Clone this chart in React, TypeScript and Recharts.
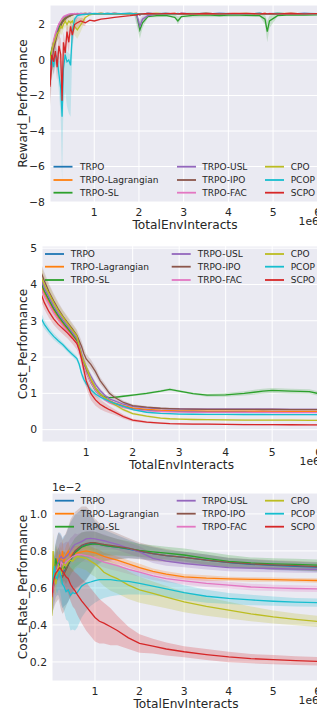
import React from "react";
import { ComposedChart, Line, Area, XAxis, YAxis, CartesianGrid, Legend } from "recharts";

const NAMES = ["TRPO", "TRPO-Lagrangian", "TRPO-SL", "TRPO-USL", "TRPO-IPO", "TRPO-FAC", "CPO", "PCOP", "SCPO"];
const COLORS = ["#1f77b4", "#ff7f0e", "#2ca02c", "#9467bd", "#8c564b", "#e377c2", "#bcbd22", "#17becf", "#d62728"];
const X_TICKS = [1, 2, 3, 4, 5, 6];

// ---- Reward_Performance ----
const rwX = [0.01, 0.05, 0.09, 0.13, 0.17, 0.21, 0.25, 0.28, 0.31, 0.35, 0.39, 0.43, 0.47, 0.51, 0.56, 0.62, 0.7, 0.8, 0.9, 1.0, 1.15, 1.3, 1.45, 1.6, 1.8, 1.95, 2.02, 2.08, 2.2, 2.4, 2.6, 2.8, 2.87, 2.95, 3.2, 3.5, 3.8, 4.1, 4.4, 4.7, 4.82, 4.87, 4.92, 5.1, 5.4, 5.7, 6.05];
const rwTrpo = [-0.5, 0.3, 0.8, 1.2, 1.5, 1.8, 2.0, 2.1, 2.25, 2.35, 2.45, 2.5, 2.55, 2.58, 2.6, 2.6, 2.62, 2.6, 2.63, 2.6, 2.62, 2.6, 2.63, 2.61, 2.62, 2.6, 2.55, 2.6, 2.62, 2.61, 2.63, 2.6, 2.6, 2.62, 2.61, 2.6, 2.63, 2.61, 2.6, 2.62, 2.6, 2.59, 2.61, 2.62, 2.6, 2.63, 2.61];
const rwLag = [-0.3, 0.5, 1.0, 1.4, 1.7, 1.9, 2.1, 2.2, 2.3, 2.4, 2.45, 2.5, 2.55, 2.57, 2.6, 2.6, 2.61, 2.62, 2.6, 2.61, 2.63, 2.6, 2.62, 2.6, 2.61, 2.62, 2.58, 2.6, 2.61, 2.63, 2.6, 2.62, 2.6, 2.61, 2.6, 2.62, 2.6, 2.63, 2.61, 2.6, 2.62, 2.6, 2.6, 2.61, 2.63, 2.6, 2.62];
const rwSl = [0.2, 0.6, 1.0, 1.3, 1.6, 1.85, 2.0, 2.15, 2.25, 2.35, 2.4, 2.45, 2.5, 2.55, 2.57, 2.58, 2.6, 2.58, 2.6, 2.59, 2.6, 2.58, 2.6, 2.59, 2.57, 2.55, 1.7, 2.1, 2.45, 2.5, 2.52, 2.4, 2.2, 2.45, 2.52, 2.55, 2.5, 2.55, 2.52, 2.5, 2.3, 1.6, 2.2, 2.5, 2.55, 2.53, 2.55];
const rwUsl = [-0.5, 0.2, 0.9, 1.3, 1.7, 2.0, 2.2, 2.3, 2.4, 2.45, 2.5, 2.55, 2.58, 2.6, 2.6, 2.62, 2.6, 2.61, 2.62, 2.6, 2.61, 2.6, 2.62, 2.6, 2.61, 2.58, 1.9, 2.3, 2.5, 2.58, 2.6, 2.6, 2.58, 2.6, 2.61, 2.6, 2.62, 2.6, 2.61, 2.6, 2.6, 2.58, 2.6, 2.61, 2.6, 2.62, 2.6];
const rwIpo = [-1.4, -0.3, 0.6, 1.0, 1.4, 1.7, 1.9, 2.1, 2.2, 2.3, 2.4, 2.45, 2.5, 2.55, 2.58, 2.6, 2.6, 2.62, 2.6, 2.61, 2.6, 2.62, 2.6, 2.61, 2.6, 2.62, 2.55, 2.6, 2.61, 2.6, 2.62, 2.6, 2.6, 2.61, 2.6, 2.62, 2.6, 2.61, 2.6, 2.62, 2.6, 2.6, 2.61, 2.6, 2.62, 2.6, 2.61];
const rwFac = [-0.8, 0.4, 1.1, 1.5, 1.8, 2.05, 2.2, 2.35, 2.45, 2.5, 2.55, 2.58, 2.6, 2.6, 2.62, 2.6, 2.61, 2.6, 2.62, 2.6, 2.61, 2.6, 2.62, 2.6, 2.61, 2.6, 2.58, 2.6, 2.62, 2.6, 2.61, 2.6, 2.6, 2.62, 2.6, 2.61, 2.6, 2.62, 2.6, 2.61, 2.6, 2.6, 2.62, 2.6, 2.61, 2.6, 2.62];
const rwCpo = [0.0, 0.5, 0.9, 1.2, 1.5, 1.6, 1.9, 1.8, 2.0, 2.2, 2.0, 2.2, 2.1, 2.2, 1.9, 1.7, 2.0, 2.4, 2.55, 2.6, 2.62, 2.6, 2.61, 2.6, 2.62, 2.6, 2.58, 2.6, 2.6, 2.62, 2.6, 2.61, 2.6, 2.6, 2.62, 2.6, 2.61, 2.6, 2.62, 2.6, 2.61, 2.6, 2.6, 2.62, 2.6, 2.61, 2.6];
const rwPcop = [-0.3, 0.2, -0.4, 0.3, 0.1, -0.8, -1.6, -3.2, -0.5, 0.3, -0.1, 0.0, -0.3, 1.6, 2.3, 2.5, 2.55, 2.58, 2.6, 2.62, 2.6, 2.62, 2.6, 2.61, 2.62, 2.6, 2.58, 2.6, 2.62, 2.6, 2.61, 2.6, 2.62, 2.6, 2.61, 2.62, 2.6, 2.61, 2.6, 2.62, 2.6, 2.61, 2.6, 2.62, 2.6, 2.61, 2.6];
const rwScpo = [-1.5, 0.3, -0.1, 0.5, -0.4, 0.8, 0.3, -2.3, 1.0, 0.4, 1.6, 1.0, 1.9, 1.4, 2.0, 2.1, 2.2, 2.1, 2.25, 2.2, 2.3, 2.35, 2.4, 2.45, 2.5, 2.55, 2.58, 2.6, 2.62, 2.6, 2.61, 2.63, 2.6, 2.62, 2.6, 2.62, 2.6, 2.61, 2.63, 2.6, 2.62, 2.6, 2.61, 2.6, 2.62, 2.6, 2.62];

// early shaded ranges of the reward runs
const rwBandX = [0.01, 0.05, 0.09, 0.13, 0.17, 0.21, 0.25, 0.28, 0.31, 0.35, 0.39, 0.43, 0.47, 0.51, 0.56, 0.62, 0.7, 0.8];
const rwPcopLo = [-0.5, -0.2, -0.9, -0.3, -0.5, -1.8, -3.2, -6.8, -2.5, -1.8, -2.6, -3.0, -3.2, 0.5, 1.8, 2.3, 2.45, 2.5];
const rwPcopHi = [-0.1, 0.6, 0.1, 0.8, 0.6, 0.2, -0.2, -0.6, 0.6, 0.8, 0.5, 0.4, 0.3, 2.2, 2.5, 2.6, 2.62, 2.64];
const rwScpoLo = [-2.2, -0.4, -0.8, -0.2, -1.2, 0.2, -0.6, -3.0, 0.4, -0.2, 1.0, 0.4, 1.5, 0.9, 1.7, 1.8, 2.0, 1.9];
const rwScpoHi = [-0.8, 1.0, 0.6, 1.2, 0.4, 1.4, 1.2, -1.4, 1.6, 1.0, 2.1, 1.6, 2.3, 1.9, 2.3, 2.4, 2.4, 2.3];
const rwIpoLo = [-2.6, -1.2, 0.0, 0.5, 1.0, 1.3, 1.6, 1.8, 2.0, 2.1, 2.25, 2.35, 2.4, 2.5, 2.55, 2.57, 2.58, 2.6];
const rwIpoHi = [-0.4, 0.6, 1.2, 1.5, 1.8, 2.1, 2.2, 2.4, 2.4, 2.5, 2.55, 2.55, 2.6, 2.6, 2.61, 2.63, 2.62, 2.64];
const rwCpoLo = [-0.4, 0.1, 0.5, 0.8, 1.1, 1.2, 1.5, 1.4, 1.7, 1.9, 1.6, 1.8, 1.6, 1.7, 1.4, 1.2, 1.6, 2.2];
const rwCpoHi = [0.4, 0.9, 1.3, 1.6, 1.9, 2.0, 2.3, 2.2, 2.3, 2.5, 2.4, 2.5, 2.5, 2.55, 2.4, 2.2, 2.4, 2.6];
// dips later on
const rwSlBandX = [1.9, 2.02, 2.08, 2.2, 2.8, 2.87, 2.95, 4.7, 4.82, 4.87, 4.92, 5.1];
const rwSlLo = [2.5, 1.2, 1.8, 2.4, 2.45, 2.0, 2.4, 2.45, 2.0, 1.0, 1.8, 2.45];
const rwSlHi = [2.6, 2.2, 2.4, 2.55, 2.58, 2.45, 2.5, 2.58, 2.55, 2.2, 2.5, 2.6];
const rwUslBandX = [1.9, 2.02, 2.08, 2.2];
const rwUslLo = [2.55, 1.5, 2.1, 2.45];
const rwUslHi = [2.62, 2.3, 2.5, 2.65];

// ---- Cost_Performance ----
const csX = [0.04, 0.1, 0.2, 0.3, 0.4, 0.5, 0.6, 0.7, 0.8, 0.85, 0.9, 0.95, 1.0, 1.1, 1.2, 1.3, 1.4, 1.5, 1.6, 1.8, 2.0, 2.3, 2.6, 2.8, 3.0, 3.3, 3.6, 4.0, 4.4, 4.8, 5.0, 5.4, 5.8, 6.05];
const csTrpo = [3.98, 3.8, 3.55, 3.3, 3.1, 2.93, 2.77, 2.6, 2.43, 2.25, 2.02, 1.82, 1.65, 1.38, 1.15, 1.0, 0.88, 0.79, 0.73, 0.64, 0.58, 0.54, 0.52, 0.51, 0.505, 0.5, 0.497, 0.495, 0.493, 0.49, 0.49, 0.49, 0.488, 0.487];
const csLag = [3.94, 3.75, 3.5, 3.27, 3.07, 2.9, 2.74, 2.58, 2.42, 2.25, 2.0, 1.8, 1.62, 1.35, 1.12, 0.98, 0.87, 0.8, 0.74, 0.66, 0.6, 0.56, 0.535, 0.525, 0.52, 0.515, 0.512, 0.51, 0.508, 0.507, 0.506, 0.505, 0.504, 0.503];
const csSl = [4.02, 3.82, 3.58, 3.34, 3.14, 2.96, 2.8, 2.63, 2.46, 2.28, 2.02, 1.8, 1.6, 1.3, 1.08, 0.95, 0.9, 0.88, 0.89, 0.92, 0.95, 1.0, 1.06, 1.11, 1.06, 0.99, 0.95, 0.96, 1.0, 1.06, 1.08, 1.06, 1.05, 0.98];
const csUsl = [4.1, 3.9, 3.65, 3.4, 3.2, 3.02, 2.85, 2.68, 2.5, 2.35, 2.1, 1.9, 1.72, 1.48, 1.25, 1.08, 0.95, 0.85, 0.8, 0.7, 0.64, 0.6, 0.58, 0.575, 0.57, 0.568, 0.566, 0.565, 0.563, 0.562, 0.562, 0.561, 0.56, 0.56];
const csIpo = [4.3, 4.1, 3.8, 3.55, 3.32, 3.12, 2.95, 2.78, 2.6, 2.45, 2.3, 2.1, 1.95, 1.8, 1.6, 1.35, 1.18, 1.0, 0.9, 0.75, 0.66, 0.62, 0.59, 0.58, 0.57, 0.565, 0.56, 0.56, 0.558, 0.555, 0.555, 0.553, 0.552, 0.55];
const csFac = [3.85, 3.68, 3.45, 3.22, 3.03, 2.86, 2.7, 2.54, 2.38, 2.2, 1.95, 1.75, 1.58, 1.3, 1.08, 0.93, 0.82, 0.74, 0.69, 0.61, 0.56, 0.52, 0.5, 0.49, 0.485, 0.48, 0.478, 0.476, 0.475, 0.474, 0.473, 0.472, 0.471, 0.47];
const csCpo = [4.17, 4.0, 3.75, 3.5, 3.28, 3.1, 2.92, 2.75, 2.58, 2.3, 2.05, 1.88, 1.73, 1.4, 1.15, 0.98, 0.88, 0.78, 0.7, 0.55, 0.44, 0.37, 0.32, 0.3, 0.29, 0.28, 0.275, 0.27, 0.265, 0.262, 0.26, 0.26, 0.258, 0.257];
const csPcop = [3.05, 2.9, 2.72, 2.57, 2.45, 2.34, 2.2, 2.08, 1.96, 1.8, 1.55, 1.38, 1.27, 1.1, 0.98, 0.9, 0.84, 0.78, 0.73, 0.64, 0.55, 0.48, 0.45, 0.44, 0.43, 0.425, 0.42, 0.42, 0.418, 0.417, 0.416, 0.415, 0.414, 0.413];
const csScpo = [3.71, 3.5, 3.25, 3.05, 2.9, 2.78, 2.66, 2.52, 2.37, 2.2, 1.95, 1.65, 1.35, 1.0, 0.82, 0.7, 0.62, 0.55, 0.49, 0.36, 0.26, 0.21, 0.18, 0.165, 0.16, 0.155, 0.15, 0.145, 0.14, 0.138, 0.137, 0.135, 0.133, 0.13];
const csSlSd = [0.2, 0.18, 0.16, 0.15, 0.14, 0.13, 0.12, 0.11, 0.1, 0.1, 0.1, 0.09, 0.08, 0.07, 0.06, 0.05, 0.04, 0.03, 0.03, 0.03, 0.03, 0.03, 0.03, 0.03, 0.03, 0.03, 0.04, 0.05, 0.06, 0.07, 0.07, 0.07, 0.06, 0.06];
const csUslSd = [0.2, 0.18, 0.16, 0.15, 0.14, 0.13, 0.12, 0.11, 0.1, 0.1, 0.1, 0.1, 0.09, 0.08, 0.07, 0.06, 0.05, 0.04, 0.035, 0.03, 0.03, 0.025, 0.025, 0.025, 0.025, 0.025, 0.025, 0.025, 0.025, 0.025, 0.025, 0.025, 0.025, 0.025];
const csIpoSd = [0.25, 0.24, 0.22, 0.2, 0.19, 0.18, 0.17, 0.16, 0.15, 0.15, 0.15, 0.15, 0.14, 0.13, 0.12, 0.1, 0.09, 0.08, 0.07, 0.05, 0.04, 0.035, 0.03, 0.03, 0.03, 0.03, 0.03, 0.03, 0.03, 0.03, 0.03, 0.03, 0.03, 0.03];
const csCpoSd = [0.3, 0.25, 0.22, 0.2, 0.18, 0.17, 0.16, 0.15, 0.14, 0.14, 0.13, 0.12, 0.11, 0.1, 0.09, 0.08, 0.07, 0.06, 0.05, 0.04, 0.03, 0.025, 0.02, 0.02, 0.02, 0.02, 0.02, 0.02, 0.02, 0.02, 0.02, 0.02, 0.02, 0.02];
const csPcopSd = [0.15, 0.12, 0.1, 0.09, 0.08, 0.07, 0.07, 0.07, 0.07, 0.08, 0.09, 0.09, 0.09, 0.08, 0.07, 0.06, 0.05, 0.04, 0.035, 0.03, 0.025, 0.02, 0.02, 0.02, 0.02, 0.02, 0.02, 0.02, 0.02, 0.02, 0.02, 0.02, 0.02, 0.02];
const csScpoSd = [0.2, 0.18, 0.17, 0.16, 0.15, 0.15, 0.15, 0.15, 0.16, 0.17, 0.18, 0.2, 0.2, 0.18, 0.16, 0.14, 0.12, 0.1, 0.08, 0.06, 0.04, 0.03, 0.025, 0.02, 0.02, 0.02, 0.02, 0.02, 0.02, 0.02, 0.02, 0.02, 0.02, 0.02];

// ---- Cost_Rate_Performance (x 1e-2) ----
const crX = [0.03, 0.06, 0.09, 0.12, 0.15, 0.18, 0.21, 0.24, 0.27, 0.3, 0.35, 0.4, 0.45, 0.5, 0.55, 0.6, 0.7, 0.8, 0.9, 1.0, 1.1, 1.2, 1.35, 1.5, 1.75, 2.0, 2.3, 2.6, 3.0, 3.5, 4.0, 4.5, 5.0, 5.5, 6.05];
const crTrpo = [0.55, 0.6, 0.66, 0.7, 0.72, 0.73, 0.72, 0.7, 0.68, 0.69, 0.7, 0.725, 0.755, 0.775, 0.795, 0.805, 0.825, 0.835, 0.84, 0.84, 0.835, 0.83, 0.825, 0.82, 0.81, 0.797, 0.785, 0.775, 0.765, 0.75, 0.737, 0.728, 0.722, 0.717, 0.712];
const crLag = [0.55, 0.62, 0.68, 0.72, 0.76, 0.7, 0.78, 0.75, 0.8, 0.74, 0.78, 0.8, 0.77, 0.79, 0.785, 0.79, 0.795, 0.8, 0.795, 0.79, 0.78, 0.77, 0.76, 0.75, 0.73, 0.71, 0.69, 0.675, 0.66, 0.653, 0.649, 0.646, 0.645, 0.642, 0.64];
const crSl = [0.55, 0.62, 0.7, 0.76, 0.72, 0.74, 0.72, 0.7, 0.7, 0.72, 0.7, 0.725, 0.75, 0.77, 0.79, 0.8, 0.82, 0.83, 0.835, 0.838, 0.835, 0.83, 0.825, 0.82, 0.812, 0.803, 0.795, 0.788, 0.778, 0.76, 0.743, 0.735, 0.73, 0.727, 0.723];
const crUsl = [0.55, 0.6, 0.65, 0.7, 0.72, 0.74, 0.76, 0.77, 0.76, 0.76, 0.77, 0.78, 0.8, 0.82, 0.835, 0.84, 0.85, 0.865, 0.868, 0.865, 0.86, 0.855, 0.845, 0.835, 0.815, 0.795, 0.76, 0.745, 0.732, 0.72, 0.71, 0.707, 0.705, 0.702, 0.7];
const crIpo = [0.55, 0.6, 0.64, 0.68, 0.7, 0.72, 0.7, 0.68, 0.66, 0.67, 0.7, 0.73, 0.76, 0.78, 0.8, 0.81, 0.83, 0.84, 0.845, 0.845, 0.84, 0.835, 0.83, 0.825, 0.815, 0.8, 0.785, 0.775, 0.765, 0.75, 0.738, 0.73, 0.725, 0.72, 0.715];
const crFac = [0.55, 0.6, 0.65, 0.68, 0.7, 0.72, 0.7, 0.74, 0.73, 0.72, 0.74, 0.75, 0.76, 0.77, 0.775, 0.78, 0.78, 0.775, 0.77, 0.76, 0.75, 0.74, 0.73, 0.72, 0.7, 0.685, 0.665, 0.65, 0.638, 0.625, 0.615, 0.605, 0.6, 0.597, 0.595];
const crCpo = [0.45, 0.8, 0.65, 0.62, 0.68, 0.72, 0.7, 0.67, 0.7, 0.73, 0.72, 0.74, 0.75, 0.745, 0.76, 0.77, 0.765, 0.76, 0.745, 0.73, 0.71, 0.685, 0.665, 0.65, 0.615, 0.59, 0.57, 0.55, 0.524, 0.5, 0.48, 0.46, 0.443, 0.43, 0.418];
const crPcop = [0.57, 0.65, 0.72, 0.66, 0.65, 0.68, 0.69, 0.66, 0.62, 0.61, 0.58, 0.59, 0.56, 0.575, 0.57, 0.575, 0.61, 0.625, 0.632, 0.64, 0.645, 0.645, 0.645, 0.64, 0.635, 0.625, 0.61, 0.595, 0.575, 0.555, 0.543, 0.535, 0.528, 0.523, 0.52];
const crScpo = [0.55, 0.62, 0.66, 0.68, 0.69, 0.7, 0.71, 0.7, 0.69, 0.68, 0.66, 0.65, 0.62, 0.6, 0.585, 0.565, 0.53, 0.5, 0.47, 0.44, 0.42, 0.41, 0.39, 0.37, 0.33, 0.3, 0.285, 0.27, 0.255, 0.24, 0.227, 0.218, 0.212, 0.207, 0.203];
const crTrpoSd = [0.1, 0.12, 0.14, 0.15, 0.16, 0.17, 0.18, 0.19, 0.19, 0.19, 0.19, 0.2, 0.2, 0.2, 0.2, 0.2, 0.2, 0.19, 0.16, 0.12, 0.1, 0.085, 0.075, 0.065, 0.05, 0.04, 0.035, 0.03, 0.03, 0.03, 0.025, 0.025, 0.025, 0.025, 0.025];
const crLagSd = [0.08, 0.08, 0.08, 0.07, 0.07, 0.07, 0.06, 0.06, 0.06, 0.05, 0.05, 0.05, 0.04, 0.04, 0.04, 0.035, 0.03, 0.03, 0.03, 0.025, 0.025, 0.02, 0.02, 0.02, 0.02, 0.02, 0.015, 0.015, 0.015, 0.015, 0.012, 0.012, 0.012, 0.012, 0.012];
const crSlSd = [0.06, 0.07, 0.08, 0.08, 0.08, 0.08, 0.08, 0.08, 0.08, 0.08, 0.08, 0.08, 0.08, 0.08, 0.08, 0.08, 0.08, 0.075, 0.07, 0.065, 0.06, 0.055, 0.05, 0.045, 0.04, 0.035, 0.035, 0.035, 0.035, 0.035, 0.035, 0.03, 0.03, 0.03, 0.03];
const crUslSd = [0.08, 0.08, 0.08, 0.08, 0.08, 0.08, 0.08, 0.08, 0.08, 0.08, 0.08, 0.07, 0.07, 0.06, 0.06, 0.05, 0.05, 0.04, 0.04, 0.04, 0.035, 0.035, 0.03, 0.03, 0.03, 0.03, 0.025, 0.025, 0.02, 0.02, 0.02, 0.02, 0.02, 0.02, 0.02];
const crIpoSd = [0.1, 0.12, 0.14, 0.16, 0.17, 0.18, 0.19, 0.2, 0.2, 0.2, 0.2, 0.2, 0.21, 0.21, 0.21, 0.21, 0.21, 0.2, 0.17, 0.13, 0.11, 0.09, 0.08, 0.07, 0.055, 0.045, 0.04, 0.035, 0.03, 0.03, 0.025, 0.025, 0.025, 0.025, 0.025];
const crFacSd = [0.08, 0.08, 0.08, 0.07, 0.07, 0.07, 0.06, 0.06, 0.06, 0.06, 0.05, 0.05, 0.05, 0.045, 0.045, 0.04, 0.04, 0.035, 0.035, 0.03, 0.03, 0.03, 0.03, 0.028, 0.025, 0.025, 0.022, 0.02, 0.02, 0.02, 0.018, 0.018, 0.017, 0.017, 0.017];
const crCpoSd = [0.15, 0.1, 0.08, 0.06, 0.06, 0.06, 0.06, 0.06, 0.06, 0.06, 0.06, 0.06, 0.06, 0.06, 0.06, 0.06, 0.06, 0.065, 0.07, 0.07, 0.075, 0.075, 0.08, 0.08, 0.075, 0.07, 0.065, 0.06, 0.055, 0.05, 0.045, 0.04, 0.035, 0.032, 0.03];
const crPcopSd = [0.05, 0.05, 0.06, 0.07, 0.08, 0.09, 0.1, 0.11, 0.12, 0.13, 0.15, 0.17, 0.19, 0.2, 0.2, 0.19, 0.17, 0.15, 0.13, 0.12, 0.11, 0.1, 0.09, 0.08, 0.07, 0.06, 0.05, 0.045, 0.04, 0.035, 0.03, 0.028, 0.025, 0.023, 0.022];
const crScpoSd = [0.05, 0.05, 0.05, 0.05, 0.05, 0.05, 0.05, 0.05, 0.06, 0.06, 0.07, 0.08, 0.09, 0.1, 0.1, 0.11, 0.12, 0.13, 0.13, 0.13, 0.12, 0.11, 0.1, 0.08, 0.06, 0.05, 0.04, 0.035, 0.03, 0.03, 0.028, 0.025, 0.025, 0.024, 0.023];

const TEXT = "#262626";
const CHART_W = 332;
const TICK_FONT = 10.8;

type Row = Record<string, number | number[]>;

const tableOf = (xs: number[], means: number[][], sds: (number[] | null)[]) =>
  xs.map((x, i) => {
    const row: Row = { x };
    NAMES.forEach((name, k) => {
      row[name] = means[k][i];
      const sd = sds[k];
      if (sd) row[name + " band"] = [means[k][i] - sd[i], means[k][i] + sd[i]];
    });
    return row;
  });

const bandOf = (xs: number[], lo: number[], hi: number[]) => xs.map((x, i) => ({ x, band: [lo[i], hi[i]] }));

const minus = (v: number) => (v < 0 ? "\u2212" + Math.abs(v) : String(v));

interface PanelSpec {
  top: number;
  height: number;
  left: number;
  mTop: number;
  mRight: number;
  axisH: number;
  xDomain: [number, number];
  yDomain: [number, number];
  yTicks: number[];
  yFmt: (v: number) => string;
  yTitle: string;
  exp?: string;
  rows: Row[];
  extraBands: Record<string, Row[][]>;
  bandAlpha: number;
  legRows: number[];
  legLine: number[];
  legText: number[];
}

const XTitle = ({ spec }: { spec: PanelSpec }) => {
  const bottom = spec.height - spec.axisH;
  const right = CHART_W - spec.mRight;
  return (
    <g>
      <text x={(spec.left + right) / 2} y={bottom + 27.3} textAnchor="middle" fontSize={12.2} fill={TEXT}>
        TotalEnvInteracts
      </text>
      <text x={right - 1} y={bottom + 23} textAnchor="end" fontSize={TICK_FONT} fill={TEXT}>
        1e6
      </text>
    </g>
  );
};

const YTitle = ({ spec }: { spec: PanelSpec }) => {
  const cy = (spec.mTop + spec.height - spec.axisH) / 2;
  return (
    <g>
      <text x={26.5} y={cy} transform={`rotate(-90 26.5 ${cy})`} textAnchor="middle" fontSize={12.2} fill={TEXT}>
        {spec.yTitle}
      </text>
      {spec.exp && (
        <text x={spec.left} y={11} fontSize={TICK_FONT} fill={TEXT}>
          {spec.exp}
        </text>
      )}
    </g>
  );
};

const LegendBox = ({ spec }: { spec: PanelSpec }) => (
  <svg width={CHART_W} height={spec.height} style={{ display: "block", overflow: "visible" }}>
    {NAMES.map((name, k) => {
      const col = Math.floor(k / 3);
      const y = spec.legRows[k % 3];
      return (
        <g key={name}>
          <line x1={spec.legLine[col]} x2={spec.legLine[col] + 19} y1={y} y2={y} stroke={COLORS[k]} strokeWidth={1.8} />
          <text x={spec.legText[col]} y={y + 3.3} fontSize={9} fill={TEXT}>
            {name}
          </text>
        </g>
      );
    })}
  </svg>
);

const Panel = ({ spec }: { spec: PanelSpec }) => (
  <div style={{ position: "absolute", left: 0, top: spec.top, width: CHART_W, height: spec.height }}>
    <ComposedChart
      width={CHART_W}
      height={spec.height}
      data={spec.rows}
      margin={{ top: spec.mTop, right: spec.mRight, bottom: 0, left: 0 }}
    >
      <CartesianGrid fill="#eaeaf2" fillOpacity={1} stroke="#ffffff" strokeWidth={1} />
      <XAxis
        type="number"
        dataKey="x"
        domain={spec.xDomain}
        ticks={X_TICKS}
        interval={0}
        allowDataOverflow
        axisLine={false}
        tickLine={false}
        tickSize={0}
        tickMargin={6}
        height={spec.axisH}
        tick={{ fontSize: TICK_FONT, fill: TEXT }}
        label={<XTitle spec={spec} />}
      />
      <YAxis
        type="number"
        domain={spec.yDomain}
        ticks={spec.yTicks}
        interval={0}
        allowDataOverflow
        axisLine={false}
        tickLine={false}
        tickSize={0}
        tickMargin={5}
        width={spec.left}
        tickFormatter={spec.yFmt}
        tick={{ fontSize: TICK_FONT, fill: TEXT }}
        label={<YTitle spec={spec} />}
      />
      {NAMES.map((name, k) => (
        <React.Fragment key={name}>
          {name + " band" in spec.rows[0] && (
            <Area
              type="linear"
              dataKey={name + " band"}
              stroke="none"
              fill={COLORS[k]}
              fillOpacity={spec.bandAlpha}
              dot={false}
              activeDot={false}
              isAnimationActive={false}
            />
          )}
          {(spec.extraBands[name] || []).map((rows, j) => (
            <Area
              key={j}
              type="linear"
              data={rows}
              dataKey="band"
              stroke="none"
              fill={COLORS[k]}
              fillOpacity={spec.bandAlpha}
              dot={false}
              activeDot={false}
              isAnimationActive={false}
            />
          ))}
          <Line
            type="linear"
            dataKey={name}
            stroke={COLORS[k]}
            strokeWidth={1.3}
            dot={false}
            activeDot={false}
            isAnimationActive={false}
          />
        </React.Fragment>
      ))}
      <Legend
        layout="horizontal"
        verticalAlign="middle"
        align="center"
        wrapperStyle={{ position: "absolute", left: 0, top: 0, width: CHART_W, height: spec.height, pointerEvents: "none" }}
        content={() => <LegendBox spec={spec} />}
      />
    </ComposedChart>
  </div>
);

const reward: PanelSpec = {
  top: 0,
  height: 240,
  left: 50,
  mTop: 5,
  mRight: 12,
  axisH: 38,
  xDomain: [0.01, 6.05],
  yDomain: [-8, 3.1],
  yTicks: [-8, -6, -4, -2, 0, 2],
  yFmt: minus,
  yTitle: "Reward_Performance",
  rows: tableOf(rwX, [rwTrpo, rwLag, rwSl, rwUsl, rwIpo, rwFac, rwCpo, rwPcop, rwScpo], []),
  extraBands: {
    "TRPO-SL": [bandOf(rwSlBandX, rwSlLo, rwSlHi)],
    "TRPO-USL": [bandOf(rwUslBandX, rwUslLo, rwUslHi)],
    "TRPO-IPO": [bandOf(rwBandX, rwIpoLo, rwIpoHi)],
    CPO: [bandOf(rwBandX, rwCpoLo, rwCpoHi)],
    PCOP: [bandOf(rwBandX, rwPcopLo, rwPcopHi)],
    SCPO: [bandOf(rwBandX, rwScpoLo, rwScpoHi)],
  },
  bandAlpha: 0.2,
  legRows: [166.7, 180, 192.7],
  legLine: [53.5, 177, 265],
  legText: [80, 202.3, 290.7],
};

const cost: PanelSpec = {
  top: 240,
  height: 240,
  left: 42,
  mTop: 6,
  mRight: 11,
  axisH: 38,
  xDomain: [0.05, 6.05],
  yDomain: [-0.34, 5.06],
  yTicks: [0, 1, 2, 3, 4, 5],
  yFmt: (v: number) => String(v),
  yTitle: "Cost_Performance",
  rows: tableOf(
    csX,
    [csTrpo, csLag, csSl, csUsl, csIpo, csFac, csCpo, csPcop, csScpo],
    [null, null, csSlSd, csUslSd, csIpoSd, null, csCpoSd, csPcopSd, csScpoSd]
  ),
  extraBands: {},
  bandAlpha: 0.2,
  legRows: [14, 26.7, 40],
  legLine: [45, 171.7, 265],
  legText: [70.7, 197.7, 290.7],
};

const costRate: PanelSpec = {
  top: 480,
  height: 237,
  left: 52,
  mTop: 13,
  mRight: 12,
  axisH: 36,
  xDomain: [0.035, 6.05],
  yDomain: [0.097, 1.113],
  yTicks: [0.2, 0.4, 0.6, 0.8, 1.0],
  yFmt: (v: number) => v.toFixed(1),
  yTitle: "Cost_Rate_Performance",
  exp: "1e\u22122",
  rows: tableOf(
    crX,
    [crTrpo, crLag, crSl, crUsl, crIpo, crFac, crCpo, crPcop, crScpo],
    [crTrpoSd, crLagSd, crSlSd, crUslSd, crIpoSd, crFacSd, crCpoSd, crPcopSd, crScpoSd]
  ),
  extraBands: {},
  bandAlpha: 0.24,
  legRows: [20.7, 33.7, 46.7],
  legLine: [55, 176.7, 265],
  legText: [80.7, 202.3, 290.7],
};

export default function App() {
  return (
    <div
      style={{
        position: "absolute",
        left: 0,
        top: 0,
        width: 317,
        height: 717,
        overflow: "hidden",
        background: "#ffffff",
        fontFamily: "'DejaVu Sans', sans-serif",
      }}
    >
      <Panel spec={reward} />
      <Panel spec={cost} />
      <Panel spec={costRate} />
    </div>
  );
}
